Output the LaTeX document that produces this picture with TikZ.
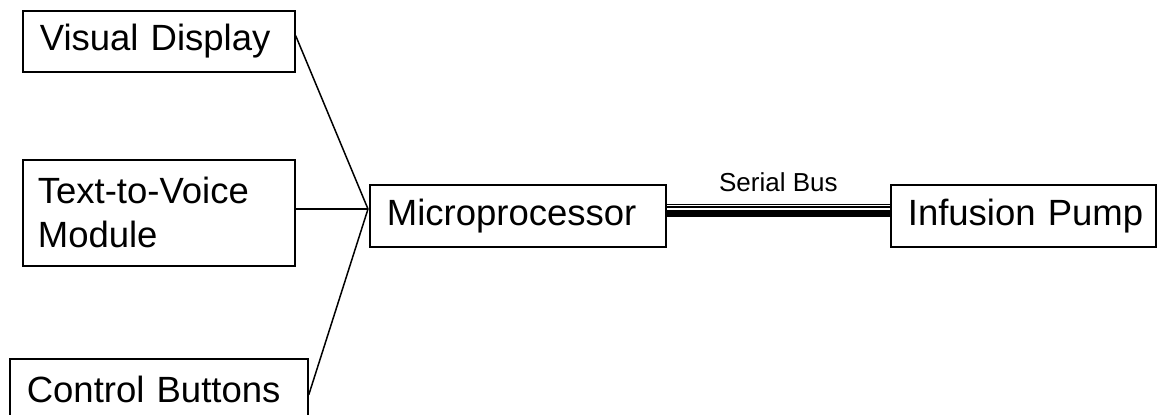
\documentclass[tikz,border=0pt]{standalone}
\usepackage{fontspec}
\setmainfont{Liberation Sans}
\usetikzlibrary{calc}
\begin{document}
\begin{tikzpicture}[x=1pt,y=-1pt,
  box/.style={draw, line width=1.7pt, inner xsep=0pt, inner ysep=0pt, align=left,
    anchor=north west, font=\fontsize{36.5}{44}\selectfont,
    execute at begin node={\leftskip=17pt\relax}},
  conn/.style={line width=1.5pt},
  bus/.style={line width=1.5pt}]
\fill[white] (0,0) rectangle (1157,415);
\useasboundingbox (0,0) rectangle (1157,415);
\clip (0,0) rectangle (1157,415);
\node[box, text width=272pt, minimum height=61pt] (vd) at (22,10) {Visual Display};
\node[box, text width=272pt, minimum height=106pt, execute at begin node={\leftskip=15pt\relax}] (ttv) at (22,159) {Text-to-Voice\\Module};
\node[box, text width=298pt, minimum height=62pt] (cb) at (9,358) {Control Buttons};
\node[box, text width=296pt, minimum height=62pt] (micro) at (369,184) {Microprocessor};
\node[box, text width=265pt, minimum height=62pt] (inf) at (890,184) {Infusion Pump};
\coordinate (hub) at (368,209);
\draw[conn] ($(vd.north east)!0.41!(vd.south east)$) -- (hub);
\draw[conn] (ttv.east |- hub) -- (hub);
\draw[conn] ($(cb.north east)+(0,37)$) -- (hub);
\draw[bus] ($(micro.east)+(0,-11.5)$) -- ($(inf.west)+(0,-11.5)$);
\draw[bus] ($(micro.east)+(0,-8.7)$) -- ($(inf.west)+(0,-8.7)$);
\draw[line width=7.3pt] ($(micro.east)+(0,-2.7)$) -- ($(inf.west)+(0,-2.7)$);
\node[font=\fontsize{26}{30}\selectfont, anchor=base] (sbl) at ($(micro.east)!0.5!(inf.west)+(0,-24)$) {Serial Bus};
\end{tikzpicture}
\end{document}
